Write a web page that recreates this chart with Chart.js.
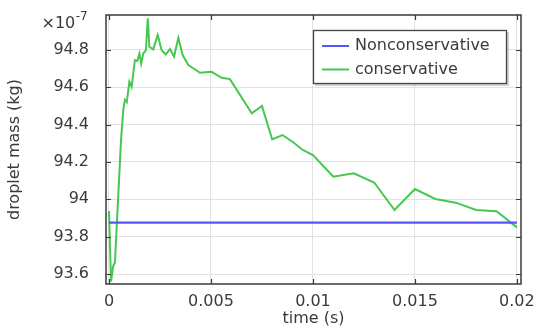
<!DOCTYPE html>
<html>
<head>
<meta charset="utf-8">
<script src="https://cdn.jsdelivr.net/npm/chart.js@4/dist/chart.umd.min.js"></script>
<style>
html,body{margin:0;padding:0;background:#fff;}
#wrap{width:538px;height:328px;position:relative;}
</style>
</head>
<body>
<div id="wrap"><canvas id="c"></canvas></div>
<script>
// ---- data ----
const timeConservative = [0, 0.0001, 0.00021, 0.00029, 0.00059, 0.0007, 0.00078, 0.00087, 0.001, 0.00111, 0.00127, 0.00139, 0.00149, 0.00158, 0.00168, 0.00181, 0.0019, 0.00198, 0.00217, 0.00239, 0.00258, 0.00278, 0.00299, 0.00319, 0.0034, 0.00361, 0.00389, 0.00446, 0.00503, 0.00552, 0.00593, 0.007, 0.0075, 0.008, 0.0085, 0.009, 0.0095, 0.01, 0.011, 0.012, 0.013, 0.014, 0.015, 0.016, 0.017, 0.018, 0.019, 0.02];
const massConservative = [93.937, 93.56, 93.645, 93.66, 94.317, 94.478, 94.533, 94.52, 94.629, 94.602, 94.745, 94.74, 94.78, 94.727, 94.78, 94.798, 94.968, 94.816, 94.802, 94.879, 94.798, 94.775, 94.804, 94.763, 94.864, 94.772, 94.718, 94.677, 94.682, 94.65, 94.643, 94.46, 94.50, 94.32, 94.344, 94.308, 94.264, 94.237, 94.121, 94.139, 94.09, 93.943, 94.055, 94.002, 93.982, 93.943, 93.936, 93.85];
const timeNonconservative = [0, 0.02];
const massNonconservative = [93.875, 93.875];
const xTicks = [0, 0.005, 0.01, 0.015, 0.02];
const yTicks = [93.6, 93.8, 94, 94.2, 94.4, 94.6, 94.8];
const seriesLabels = ['Nonconservative', 'conservative'];
const xTitle = 'time (s)';
const yTitle = 'droplet mass (kg)';
const yExponent = '-7';

const FONT = '"DejaVu Sans", sans-serif';
const TXT = '#3a3a3a';

function pts(xs, ys){ return xs.map((x,i)=>({x:x, y:ys[i]})); }
function noPad(s){ s.paddingTop = 0; s.paddingBottom = 0; s.paddingLeft = 0; s.paddingRight = 0; }

const decor = {
  id: 'decor',
  afterDraw(chart){
    const ctx = chart.ctx;
    const a = chart.chartArea;
    const xs = chart.scales.x, ys = chart.scales.y;
    ctx.save();
    // frame
    ctx.strokeStyle = '#3a3a3a';
    ctx.lineWidth = 1.5;
    ctx.strokeRect(a.left, a.top, a.right - a.left, a.bottom - a.top);
    // inward ticks
    const tl = 5;
    ctx.lineWidth = 1.2;
    ctx.beginPath();
    xTicks.forEach(v => {
      const px = Math.round(xs.getPixelForValue(v)) + 0.5;
      ctx.moveTo(px, a.bottom); ctx.lineTo(px, a.bottom - tl);
      ctx.moveTo(px, a.top); ctx.lineTo(px, a.top + tl);
    });
    yTicks.forEach(v => {
      const py = Math.round(ys.getPixelForValue(v)) + 0.5;
      ctx.moveTo(a.left, py); ctx.lineTo(a.left + tl, py);
      ctx.moveTo(a.right, py); ctx.lineTo(a.right - tl, py);
    });
    ctx.stroke();
    // exponent label
    ctx.fillStyle = TXT;
    ctx.textBaseline = 'alphabetic';
    ctx.textAlign = 'left';
    ctx.font = '16px ' + FONT;
    ctx.fillText('\u00d710', 41.5, 27.5);
    const w = ctx.measureText('\u00d710').width;
    ctx.font = '12px ' + FONT;
    ctx.fillText(yExponent, 41.5 + w + 0.5, 19.5);
    // legend
    const lx = 313, ly = 30, lw = 194, lh = 54;
    ctx.fillStyle = 'rgba(0,0,0,0.18)';
    ctx.fillRect(lx + 2, ly + 2, lw, lh);
    ctx.fillStyle = '#ffffff';
    ctx.fillRect(lx, ly, lw, lh);
    ctx.strokeStyle = '#444444';
    ctx.lineWidth = 1.3;
    ctx.strokeRect(lx + 0.5, ly + 0.5, lw - 1, lh - 1);
    const ds = chart.data.datasets;
    ds.forEach((d, i) => {
      const yy = 46 + i * 23.5;
      ctx.strokeStyle = d.borderColor;
      ctx.lineWidth = 2;
      ctx.beginPath();
      ctx.moveTo(322, yy); ctx.lineTo(349, yy);
      ctx.stroke();
      ctx.fillStyle = TXT;
      ctx.font = '16px ' + FONT;
      ctx.textBaseline = 'middle';
      ctx.fillText(d.label, 355, yy);
    });
    ctx.restore();
  }
};

new Chart(document.getElementById('c'), {
  type: 'line',
  data: {
    datasets: [
      { label: seriesLabels[0], data: pts(timeNonconservative, massNonconservative), borderColor: 'rgb(85,85,255)', borderWidth: 2.2, pointRadius: 0, fill: false, order: 0 },
      { label: seriesLabels[1], data: pts(timeConservative, massConservative), borderColor: 'rgb(70,200,80)', borderWidth: 2, pointRadius: 0, fill: false, order: 1, tension: 0 }
    ]
  },
  options: {
    responsive: true,
    maintainAspectRatio: false,
    devicePixelRatio: 1,
    animation: false,
    layout: { padding: { left: 0, right: 17, top: 15, bottom: 0 } },
    plugins: { legend: { display: false }, tooltip: { enabled: false } },
    scales: {
      x: {
        type: 'linear',
        min: -0.000147,
        max: 0.0202,
        afterBuildTicks: s => { s.ticks = xTicks.map(v => ({ value: v })); },
        afterFit: s => { s.height = 44; noPad(s); },
        grid: { color: '#e2e2e2', lineWidth: 1, drawTicks: false },
        border: { display: false },
        ticks: { padding: 8, color: TXT, font: { family: FONT, size: 16 }, maxRotation: 0, autoSkip: false,
                 callback: v => String(+Number(v).toFixed(6)) },
        title: { display: true, text: xTitle, color: TXT, font: { family: FONT, size: 16 }, padding: { top: 0, bottom: 0 } }
      },
      y: {
        type: 'linear',
        min: 93.547,
        max: 94.986,
        afterBuildTicks: s => { s.ticks = yTicks.map(v => ({ value: v })); },
        afterFit: s => { s.width = 106; noPad(s); },
        grid: { color: '#e2e2e2', lineWidth: 1, drawTicks: false },
        border: { display: false },
        ticks: { padding: 17, color: TXT, font: { family: FONT, size: 16 }, autoSkip: false,
                 callback: v => String(+Number(v).toFixed(4)) },
        title: { display: true, text: yTitle, color: TXT, font: { family: FONT, size: 16 }, padding: { top: 5, bottom: 0 } }
      }
    }
  },
  plugins: [decor]
});
</script>
</body>
</html>
